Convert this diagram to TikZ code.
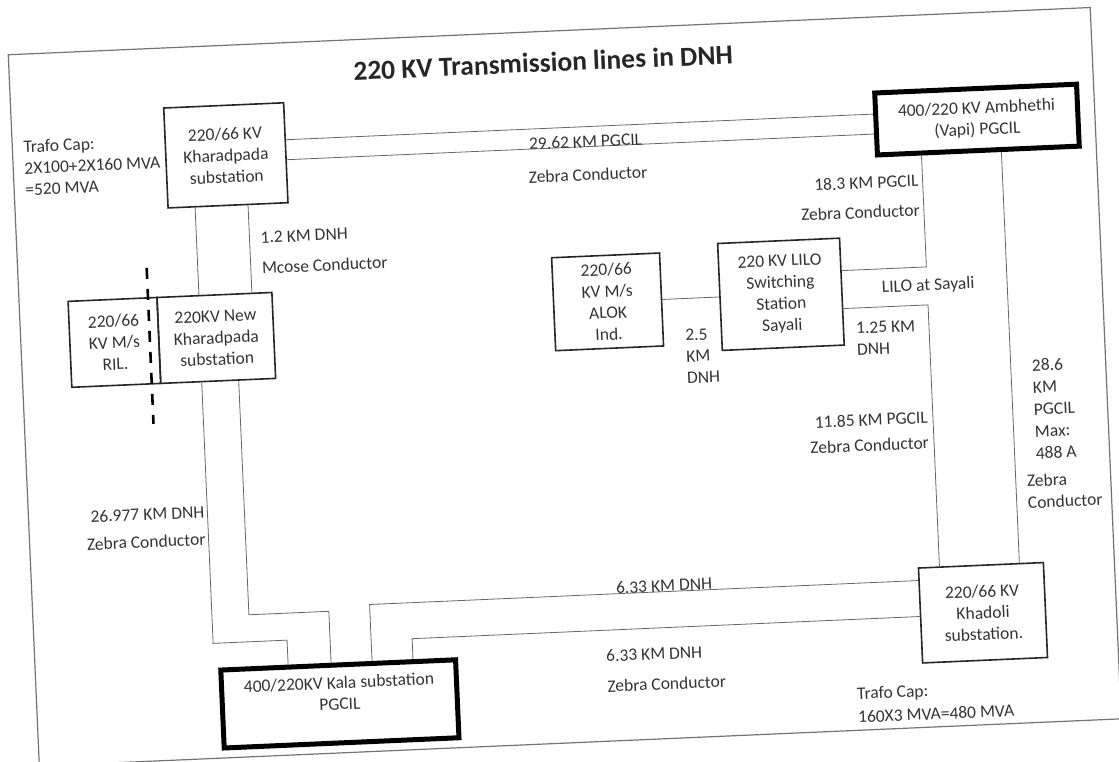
\documentclass[tikz,border=0pt]{standalone}
\usepackage{fontspec}
\setmainfont{Carlito}
\begin{document}
\begin{tikzpicture}[
  x=1pt, y=-1pt,
  font=\fontsize{17.5}{21.5}\selectfont,
  title/.style={font=\fontsize{27.5}{31}\selectfont\bfseries, text=black!85},
  sub/.style={rectangle, draw=black!85, line width=1.6pt, align=center,
    text=black!80, inner sep=2pt},
  pgcil/.style={sub, draw=black, line width=5pt},
  lbl/.style={text=black!80, inner sep=1pt},
  feeder/.style={draw=black!60, line width=0.8pt},
  cutline/.style={draw=black, line width=2.6pt, dash pattern=on 11pt off 10pt},
  page/.style={draw=black!55, line width=1.2pt},
]
\useasboundingbox (0,0) rectangle (1119,762);

\begin{scope}[transform canvas={rotate around={2.5:(560,381)}}]

% Sheet border and title
\draw[page] (23,31) rectangle (1106,743);
\node[title] (title) at (557,62) {220 KV Transmission lines in DNH};

% Substations
\node[sub, minimum width=120pt, minimum height=100pt] (khar) at (236,141)
  {220/66 KV\\Kharadpada\\substation};
\node[pgcil, minimum width=202pt, minimum height=62pt] (amb) at (988,138)
  {400/220 KV Ambhethi\\(Vapi) PGCIL};
\node[sub, minimum width=89pt, minimum height=86pt] (ril) at (116.5,323)
  {220/66\\KV M/s\\RIL.};
\node[sub, minimum width=115pt, minimum height=86pt] (newkhar) at (218.5,323)
  {220KV New\\Kharadpada\\substation};
\node[sub, minimum width=108pt, minimum height=93pt] (alok) at (611,304)
  {220/66\\KV M/s\\ALOK\\Ind.};
\node[sub, minimum width=122pt, minimum height=107pt] (sayali) at (784.5,304)
  {220 KV LILO\\Switching\\Station\\Sayali};
\node[sub, minimum width=125pt, minimum height=95pt] (khad) at (972.5,631)
  {220/66 KV\\Khadoli\\substation.};
\node[pgcil, minimum width=235pt, minimum height=78pt] (kala) at (326,694)
  {400/220KV Kala substation\\PGCIL\\~};

% RIL boundary
\coordinate (cut1) at (152,250);
\coordinate (cut2) at (152,406);
\draw[cutline] (cut1) -- (cut2);

% Lines
\draw[feeder] (khar.east |- 0,128) -- (amb.west |- 0,128);
\draw[feeder] (khar.east |- 0,148) -- (amb.west |- 0,148);
\draw[feeder] (khar.south -| 203,0) -- (newkhar.north -| 203,0);
\draw[feeder] (khar.south -| 256,0) -- (newkhar.north -| 256,0);
\draw[feeder] (newkhar.south -| 202,0) |- (276,628) -- (kala.north -| 276,0);
\draw[feeder] (newkhar.south -| 239,0) |- (319,601) -- (kala.north -| 319,0);
\draw[feeder] (kala.north -| 360,0) |- (khad.west |- 0,596);
\draw[feeder] (kala.north -| 401,0) |- (khad.west |- 0,632);
\draw[feeder] (amb.south -| 1011,0) -- (khad.north -| 1011,0);
\draw[feeder] (amb.south -| 931,0) |- (sayali.east |- 0,283);
\draw[feeder] (sayali.east |- 0,321) -| (khad.north -| 931,0);
\draw[feeder] (alok.east) -- (sayali.west);

% Line and capacity labels
\node[lbl, anchor=west, align=left] (cap1) at (33,145)
  {Trafo Cap:\\2X100+2X160 MVA\\=520 MVA};
\node[lbl] (len1) at (596,143) {29.62 KM PGCIL};
\node[lbl] (cond1) at (597,176) {Zebra Conductor};
\node[lbl, anchor=east, align=right] (len2) at (928,211)
  {18.3 KM PGCIL\\[8pt]Zebra Conductor};
\node[lbl, anchor=west, align=left] (len3) at (266,240)
  {1.2 KM DNH\\[9pt]Mcose Conductor};
\node[lbl, anchor=east, align=right] (len4) at (200,510)
  {26.977 KM DNH\\[6pt]Zebra Conductor};
\node[lbl, anchor=west, align=left] (len5) at (686,362) {2.5\\KM\\DNH};
\node[lbl, anchor=west, align=left] (len6) at (857,352) {1.25 KM\\DNH};
\node[lbl] (lilo) at (932,302) {LILO at Sayali};
\node[lbl, anchor=east, align=right] (len7) at (927,446)
  {11.85 KM PGCIL\\[4pt]Zebra Conductor};
\node[lbl, anchor=west, align=left, font=\fontsize{17.5}{22}\selectfont]
  (len8) at (1031,430) {28.6\\KM\\PGCIL\\Max:\\488 A};
\node[lbl, anchor=west, align=left] (cond8) at (1021,512) {Zebra\\Conductor};
\node[lbl] (len9) at (655,590) {6.33 KM DNH};
\node[lbl, anchor=west, align=left] (len10) at (593,673)
  {6.33 KM DNH\\[9pt]Zebra Conductor};
\node[lbl, anchor=west, align=left] (cap2) at (842,718)
  {Trafo Cap:\\[2pt]160X3 MVA=480 MVA};

\end{scope}
\end{tikzpicture}
\end{document}
